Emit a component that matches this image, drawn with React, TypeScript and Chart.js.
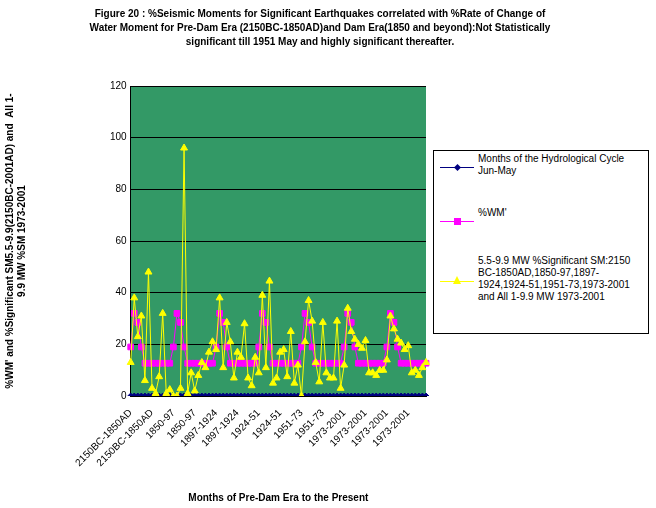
import React, { useEffect, useRef } from "react";
import { Chart, registerables } from "chart.js";
Chart.register(...registerables);

const eras = ["2150BC-1850AD", "1850-97", "1897-1924", "1924-51", "1951-73", "1973-2001", "1973-2001"];
const categories: string[] = eras.flatMap((e) => Array(12).fill(e));
const monthsSeries: number[] = categories.map(() => 0);
const wmCycle = [19, 32, 28.5, 19, 12.7, 12.7, 12.7, 12.7, 12.7, 12.7, 12.7, 12.7];
const wmSeries: number[] = eras.flatMap(() => wmCycle);
const smSeries: number[] = [
  13, 38, 23, 31, 6, 48, 3, 1, 7.5, 32, 1, 2.5,
  0, 0, 3, 96, 1, 9, 2, 8, 13, 11, 17, 21,
  18, 38, 11, 28.5, 21, 7, 17, 15, 28, 7, 4, 15,
  9, 39, 11, 44.5, 5, 7, 17, 18, 7.5, 25, 5, 12,
  0, 21, 37, 29, 13, 5.5, 28.5, 9, 7, 7, 29, 3,
  12, 34, 25, 22, 20, 18.5, 21.5, 9, 9, 8, 10, 10,
  14, 31, 26, 22, 20.5, 18, 19.5, 9, 10, 8, 11, 13,
];
const yTicks = [0, 20, 40, 60, 80, 100, 120];
const titleLines = [
  "Figure 20 : %Seismic Moments for Significant Earthquakes correlated with %Rate of Change of",
  "Water Moment for Pre-Dam Era (2150BC-1850AD)and Dam Era(1850 and beyond):Not Statistically",
  "significant till 1951 May and highly significant thereafter.",
];
const legendLabels = [
  "Months of the Hydrological Cycle Jun-May",
  "%WM'",
  "5.5-9.9 MW %Significant SM:2150 BC-1850AD,1850-97,1897-1924,1924-51,1951-73,1973-2001 and All 1-9.9 MW 1973-2001",
];

const FONT = "'Liberation Sans', Arial, sans-serif";

export default function App() {
  const ref = useRef<HTMLCanvasElement>(null);
  useEffect(() => {
    const bg = {
      id: "bg",
      beforeDraw(c: any) {
        const a = c.chartArea;
        const ctx = c.ctx;
        ctx.save();
        ctx.fillStyle = "#339966";
        ctx.fillRect(a.left, a.top, a.right - a.left, a.bottom - a.top);
        ctx.restore();
      },
    };
    const chart = new Chart(ref.current!, {
      type: "line",
      data: {
        labels: categories,
        datasets: [
          { data: monthsSeries, borderColor: "#000080", backgroundColor: "#000080", pointStyle: "rectRot", pointRadius: 3, borderWidth: 1 },
          { data: wmSeries, borderColor: "#ff00ff", backgroundColor: "#ff00ff", pointStyle: "rect", pointRadius: 4, borderWidth: 1 },
          { data: smSeries, borderColor: "#ffff00", backgroundColor: "#ffff00", pointStyle: "triangle", pointRadius: 4, borderWidth: 1 },
        ].reverse(),
      },
      plugins: [bg],
      options: {
        animation: false,
        responsive: false,
        layout: { padding: { top: 86, right: 230, left: 0, bottom: 0 } },
        plugins: {
          legend: { display: false },
          tooltip: { enabled: false },
          title: { display: false },
        },
        scales: {
          x: {
            grid: { display: false },
            border: { color: "#000" },
            ticks: {
              autoSkip: false,
              maxRotation: 45,
              minRotation: 45,
              color: "#000",
              font: { family: FONT, size: 10 },
              callback: (_v: any, i: number) => (i % 6 === 0 ? categories[i] : null),
            },
            title: { display: true, text: "Months of Pre-Dam Era to the Present", font: { family: FONT, size: 10, weight: "bold" }, color: "#000", padding: { top: 20 } },
          },
          y: {
            min: 0,
            max: 120,
            afterBuildTicks: (s: any) => { s.ticks = yTicks.map((v) => ({ value: v })); },
            grid: { color: "#000", drawTicks: false },
            border: { color: "#000" },
            ticks: { color: "#000", font: { family: FONT, size: 10 }, padding: 4 },
            title: {
              display: true,
              text: ["%WM' and %Significant SM5.5-9.9(2150BC-2001AD) and  All 1-", "9.9 MW %SM 1973-2001"],
              font: { family: FONT, size: 10, weight: "bold" },
              color: "#000",
              padding: { top: 4, bottom: 78 },
            },
          },
        },
      } as any,
    });
    return () => chart.destroy();
  }, []);
  return (
    <div style={{ position: "fixed", left: 0, top: 0, width: 656, height: 508, background: "#fff" }}>
      <canvas ref={ref} width={656} height={508} />
      <div style={{ position: "absolute", left: 60, top: 7, width: 520, textAlign: "center", fontFamily: FONT, fontSize: 10, fontWeight: "bold", lineHeight: "14px" }}>
        {titleLines.map((t, i) => <div key={i}>{t}</div>)}
      </div>
      <div style={{ position: "absolute", left: 433, top: 150, width: 214, height: 182, border: "1px solid #000", fontFamily: FONT, fontSize: 10, background: "#fff" }}>
        {legendLabels.map((t, i) => (
          <div key={i} style={{ position: "absolute", left: 44, top: [2, 56, 104][i], width: 168, lineHeight: "12px" }}>{t}</div>
        ))}
        {[["#000080", "rotate(45deg)", 5, 16], ["#ff00ff", "none", 7, 70], ["#ffff00", "tri", 8, 130]].map(([c, tr, s, y]: any, i) => (
          <div key={"m" + i} style={{ position: "absolute", left: 6, top: y, width: 34, height: 1, background: c }}>
            {tr === "tri" ? (
              <div style={{ position: "absolute", left: 13, top: -5, width: 0, height: 0, borderLeft: "4px solid transparent", borderRight: "4px solid transparent", borderBottom: `8px solid ${c}` }} />
            ) : (
              <div style={{ position: "absolute", left: 17 - s / 2, top: -s / 2, width: s, height: s, background: c, transform: tr }} />
            )}
          </div>
        ))}
      </div>
    </div>
  );
}
